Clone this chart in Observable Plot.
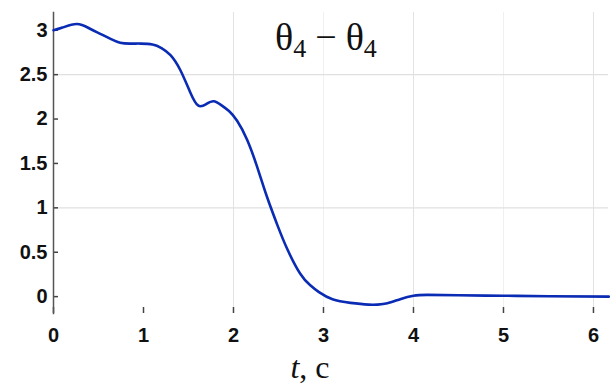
<!DOCTYPE html>
<html>
<head>
<meta charset="utf-8">
<script src="https://cdn.jsdelivr.net/npm/d3@7"></script>
<script src="https://cdn.jsdelivr.net/npm/@observablehq/plot@0.6"></script>
<style>
  html, body { margin: 0; padding: 0; background: #fff; }
  #chart { width: 613px; height: 388px; }
</style>
</head>
<body>
<div id="chart"></div>
<script>
const tValues = [0, 0.1, 0.26, 0.4, 0.52, 0.64, 0.74, 0.85, 0.97, 1.1, 1.2, 1.3, 1.41, 1.52, 1.61, 1.7, 1.78, 1.86, 1.95, 2.04, 2.15, 2.26, 2.37, 2.49, 2.6, 2.74, 2.85, 2.95, 3.1, 3.3, 3.5, 3.6, 3.71, 3.86, 4.0, 4.15, 4.5, 5, 5.5, 6.17];
const thetaValues = [3.0, 3.03, 3.07, 3.02, 2.96, 2.9, 2.86, 2.85, 2.85, 2.84, 2.8, 2.72, 2.55, 2.3, 2.15, 2.17, 2.2, 2.16, 2.09, 1.98, 1.77, 1.47, 1.13, 0.8, 0.53, 0.26, 0.13, 0.05, -0.03, -0.07, -0.09, -0.09, -0.075, -0.026, 0.01, 0.02, 0.015, 0.01, 0.005, 0.0];
const xTicks = [0, 1, 2, 3, 4, 5, 6];
const yTicks = [0, 0.5, 1, 1.5, 2, 2.5, 3];
const xGridMajor = [2, 4, 6];
const xGridMinor = [3, 5];
const yGrid = [1, 2.5];
const titleMain = "θ";
const titleSub = "4";
const xLabelItalic = "t";
const xLabelRest = ", c";

const data = tValues.map((t, i) => ({t, v: thetaValues[i]}));
const tickFont = {fontSize: 20, fontWeight: "bold", fill: "#111", fontFamily: "Liberation Sans, Arial, sans-serif"};

const chart = Plot.plot({
  width: 613,
  height: 388,
  marginLeft: 53,
  marginRight: 5,
  marginTop: 12,
  marginBottom: 75,
  x: {domain: [0, 6.167]},
  y: {domain: [-0.19, 3.2]},
  style: {fontFamily: "Liberation Sans, Arial, sans-serif", background: "#fff"},
  marks: [
    Plot.ruleX(xGridMinor, {stroke: "#f0f0f0", strokeWidth: 1}),
    Plot.ruleX(xGridMajor, {stroke: "#e2e2e2", strokeWidth: 1}),
    Plot.ruleY(yGrid, {stroke: "#e0e0e0", strokeWidth: 1.2}),
    Plot.axisY({ticks: yTicks, tickSize: -5, text: null, label: null, stroke: "#444", strokeWidth: 1.5}),
    Plot.axisX({ticks: xTicks, tickSize: -6, text: null, label: null, stroke: "#444", strokeWidth: 1.5}),
    Plot.text(yTicks, {y: d => d, text: d => String(d), frameAnchor: "left", dx: -6, textAnchor: "end", lineAnchor: "middle", ...tickFont}),
    Plot.text(xTicks, {x: d => d, text: d => String(d), frameAnchor: "bottom", dy: 22, lineAnchor: "middle", ...tickFont}),
    Plot.frame({anchor: "left", stroke: "#555", strokeWidth: 1.5}),
    Plot.line(data, {x: "t", y: "v", curve: "natural", stroke: "#0a2bb4", strokeWidth: 2.6})
  ]
});
document.getElementById("chart").appendChild(chart);

const svg = d3.select(chart);
const title = svg.append("text")
  .attr("x", 275).attr("y", 50)
  .attr("text-anchor", "start")
  .attr("font-family", "Liberation Serif, Times New Roman, serif")
  .attr("font-size", 38).attr("fill", "#111");
title.append("tspan").text(titleMain);
title.append("tspan").attr("font-size", 26).attr("dy", 7).text(titleSub);
title.append("tspan").attr("dy", -7).attr("dx", 9).text("−");
title.append("tspan").attr("dx", 9).text(titleMain);
title.append("tspan").attr("font-size", 26).attr("dy", 7).text(titleSub);

const xl = svg.append("text")
  .attr("x", 310).attr("y", 378)
  .attr("text-anchor", "middle")
  .attr("font-family", "Liberation Serif, Times New Roman, serif")
  .attr("font-size", 32).attr("fill", "#111");
xl.append("tspan").attr("font-style", "italic").text(xLabelItalic);
xl.append("tspan").text(xLabelRest);
</script>
</body>
</html>
